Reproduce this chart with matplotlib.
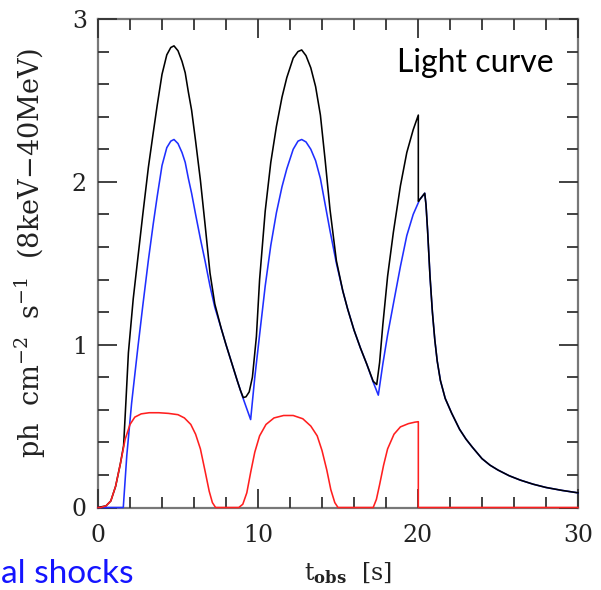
import matplotlib
matplotlib.use("Agg")
import matplotlib.pyplot as plt
from matplotlib.ticker import MultipleLocator

# ---------------- data ----------------
t_blue = [0, 1.58, 1.8, 2.1, 2.5, 2.8, 3.15, 3.45, 3.7, 4.0, 4.3, 4.55, 4.75,
          5.0, 5.25, 5.45, 5.65, 5.85, 6.1, 6.4, 6.7, 7.0, 7.3, 7.7, 8.0, 8.35,
          8.7, 9.0, 9.25, 9.54,
          9.8, 10.1, 10.45, 10.8, 11.15, 11.5, 11.8, 12.2, 12.5, 12.73, 13.0,
          13.3, 13.6, 13.9, 14.2, 14.5, 14.9, 15.3, 15.6, 16.0, 16.4, 16.8,
          17.2, 17.52,
          17.8, 18.1, 18.46, 18.9, 19.3, 19.7, 20.1, 20.42,
          20.5, 20.6, 20.75, 20.9, 21.05, 21.2, 21.4, 21.7, 22.1, 22.6, 23.0,
          23.4, 24.0, 24.5, 25.0, 25.7, 26.4, 27.2, 28.0, 29.0, 30.0]
blue = [0, 0, 0.32, 0.64, 0.99, 1.24, 1.52, 1.74, 1.91, 2.10, 2.21, 2.25, 2.26,
        2.235, 2.18, 2.12, 2.02, 1.93, 1.80, 1.65, 1.51, 1.36, 1.23, 1.10, 1.00,
        0.89, 0.78, 0.69, 0.62, 0.54,
        0.80, 1.06, 1.36, 1.61, 1.81, 1.97, 2.08, 2.20, 2.25, 2.26, 2.245,
        2.20, 2.13, 2.02, 1.86, 1.70, 1.50, 1.33, 1.22, 1.09, 0.98, 0.88,
        0.77, 0.69,
        0.88, 1.06, 1.25, 1.48, 1.67, 1.80, 1.89, 1.93,
        1.86, 1.70, 1.42, 1.20, 1.03, 0.90, 0.78, 0.67, 0.58, 0.48, 0.42,
        0.37, 0.30, 0.26, 0.23, 0.195, 0.168, 0.143, 0.123, 0.105, 0.090]

t_red = [0, 0.15, 0.5, 0.8, 1.1, 1.4, 1.7, 2.0, 2.3, 2.7, 3.2, 3.8, 4.4, 5.0,
         5.4, 5.8, 6.1, 6.4, 6.7, 6.95, 7.15, 7.35,
         8.8, 9.05, 9.3, 9.55, 9.8, 10.1, 10.5, 11.0, 11.6, 12.2, 12.8, 13.3,
         13.7, 14.0, 14.3, 14.55, 14.8, 15.0,
         17.2, 17.4, 17.6, 17.85, 18.1, 18.5, 18.9, 19.4, 19.8, 20.02, 20.02,
         30.0]
red = [0, 0, 0.01, 0.04, 0.13, 0.27, 0.42, 0.51, 0.555, 0.575, 0.582, 0.582,
       0.578, 0.57, 0.55, 0.51, 0.45, 0.36, 0.22, 0.10, 0.03, 0.0,
       0.0, 0.02, 0.09, 0.22, 0.34, 0.44, 0.51, 0.55, 0.565, 0.565, 0.545,
       0.50, 0.44, 0.35, 0.23, 0.11, 0.03, 0.0,
       0.0, 0.05, 0.14, 0.26, 0.36, 0.45, 0.495, 0.515, 0.524, 0.527, 0.0,
       0.0]

t_total = [0, 0.5, 0.8, 1.1, 1.4, 1.6, 1.75, 1.9, 2.2, 2.5, 2.8, 3.15, 3.45,
           3.7, 4.0, 4.3, 4.55, 4.75, 5.0, 5.25, 5.45, 5.65, 5.85, 6.1, 6.4,
           6.7, 7.0, 7.3, 7.7, 8.0, 8.35, 8.7, 8.9, 9.08,
           9.25, 9.45, 9.65, 9.9, 10.1, 10.45, 10.8, 11.15, 11.5, 11.8, 12.2,
           12.5, 12.73, 13.0, 13.3, 13.6, 13.9, 14.2, 14.5, 14.9, 15.3, 15.6,
           16.0, 16.4, 16.8, 17.2, 17.42,
           17.6, 17.8, 18.1, 18.46, 18.9, 19.3, 19.7, 20.02, 20.02, 20.1, 20.42,
           20.5, 20.6, 20.75, 20.9, 21.05, 21.2, 21.4, 21.7, 22.1, 22.6, 23.0,
           23.4, 24.0, 24.5, 25.0, 25.7, 26.4, 27.2, 28.0, 29.0, 30.0]
total = [0, 0.01, 0.04, 0.13, 0.27, 0.38, 0.66, 0.95, 1.28, 1.54, 1.80, 2.09,
         2.30, 2.47, 2.66, 2.78, 2.825, 2.835, 2.805, 2.74, 2.67, 2.55, 2.44,
         2.25, 2.01, 1.73, 1.44, 1.25, 1.10, 1.00, 0.89, 0.78, 0.72, 0.675,
         0.68, 0.71, 0.80, 1.05, 1.40, 1.82, 2.12, 2.34, 2.52, 2.64, 2.76,
         2.80, 2.81, 2.775, 2.70, 2.585, 2.41, 2.13, 1.83, 1.515, 1.33, 1.22,
         1.09, 0.98, 0.88, 0.775, 0.755,
         0.89, 1.12, 1.42, 1.69, 1.975, 2.18, 2.32, 2.41, 1.88, 1.89, 1.93,
         1.86, 1.70, 1.42, 1.20, 1.03, 0.90, 0.78, 0.67, 0.58, 0.48, 0.42,
         0.37, 0.30, 0.26, 0.23, 0.195, 0.168, 0.143, 0.123, 0.105, 0.090]

x_ticks = [0, 10, 20, 30]
y_ticks = [0, 1, 2, 3]

# ---------------- figure ----------------
plt.rcParams['mathtext.fontset'] = 'dejavuserif'
W, H = 601, 590
fig = plt.figure(figsize=(W / 100, H / 100), dpi=100)
ax = fig.add_axes([98 / W, (H - 507.5) / H, 480 / W, (507.5 - 19) / H])

ax.plot(t_blue, blue, color='#1f2fff', lw=1.15, zorder=3, clip_on=False)
ax.plot(t_total, total, color='black', lw=1.15, zorder=4, clip_on=False)
ax.plot(t_red, red, color='#ff1f1f', lw=1.15, zorder=5, clip_on=False)

ax.set_xlim(0, 30)
ax.set_ylim(0, 3)
ax.set_xticks(x_ticks)
ax.set_yticks(y_ticks)
ax.xaxis.set_minor_locator(MultipleLocator(2))
ax.yaxis.set_minor_locator(MultipleLocator(0.2))
ax.tick_params(which='both', direction='in', top=True, right=True,
               color='#333333', width=1.3)
ax.tick_params(which='major', length=14)
ax.tick_params(which='minor', length=8)
ax.tick_params(axis='x', which='major', pad=12)
ax.tick_params(axis='y', which='major', pad=8)
for lab in ax.get_xticklabels() + ax.get_yticklabels():
    lab.set_family('DejaVu Serif')
    lab.set_fontsize(17)
    lab.set_color('#222222')
for s in ax.spines.values():
    s.set_color('#777777')
    s.set_linewidth(1.6)
    s.set_zorder(1)

ax.set_xlabel(r'$\mathrm{t}_{\mathbf{obs}}$  [s]', family='DejaVu Serif',
              fontsize=17, color='#222222')
ax.xaxis.set_label_coords(0.52, -0.108)
ax.set_ylabel(r'ph  cm$^{-2}$  s$^{-1}$  (8keV$-$40MeV)',
              family='DejaVu Serif', fontsize=19.5, color='#222222')
ax.yaxis.set_label_coords(-0.105, 0.522)

ax.text(0.95, 0.91, 'Light curve', transform=ax.transAxes, ha='right',
        va='center', fontsize=23, family='Lato', color='black')
fig.text(1 / W, 1 - 574 / H, 'al shocks', ha='left', va='center',
         fontsize=24, family='Lato', color='#1414ff')

fig.savefig('out.png', dpi=100)
